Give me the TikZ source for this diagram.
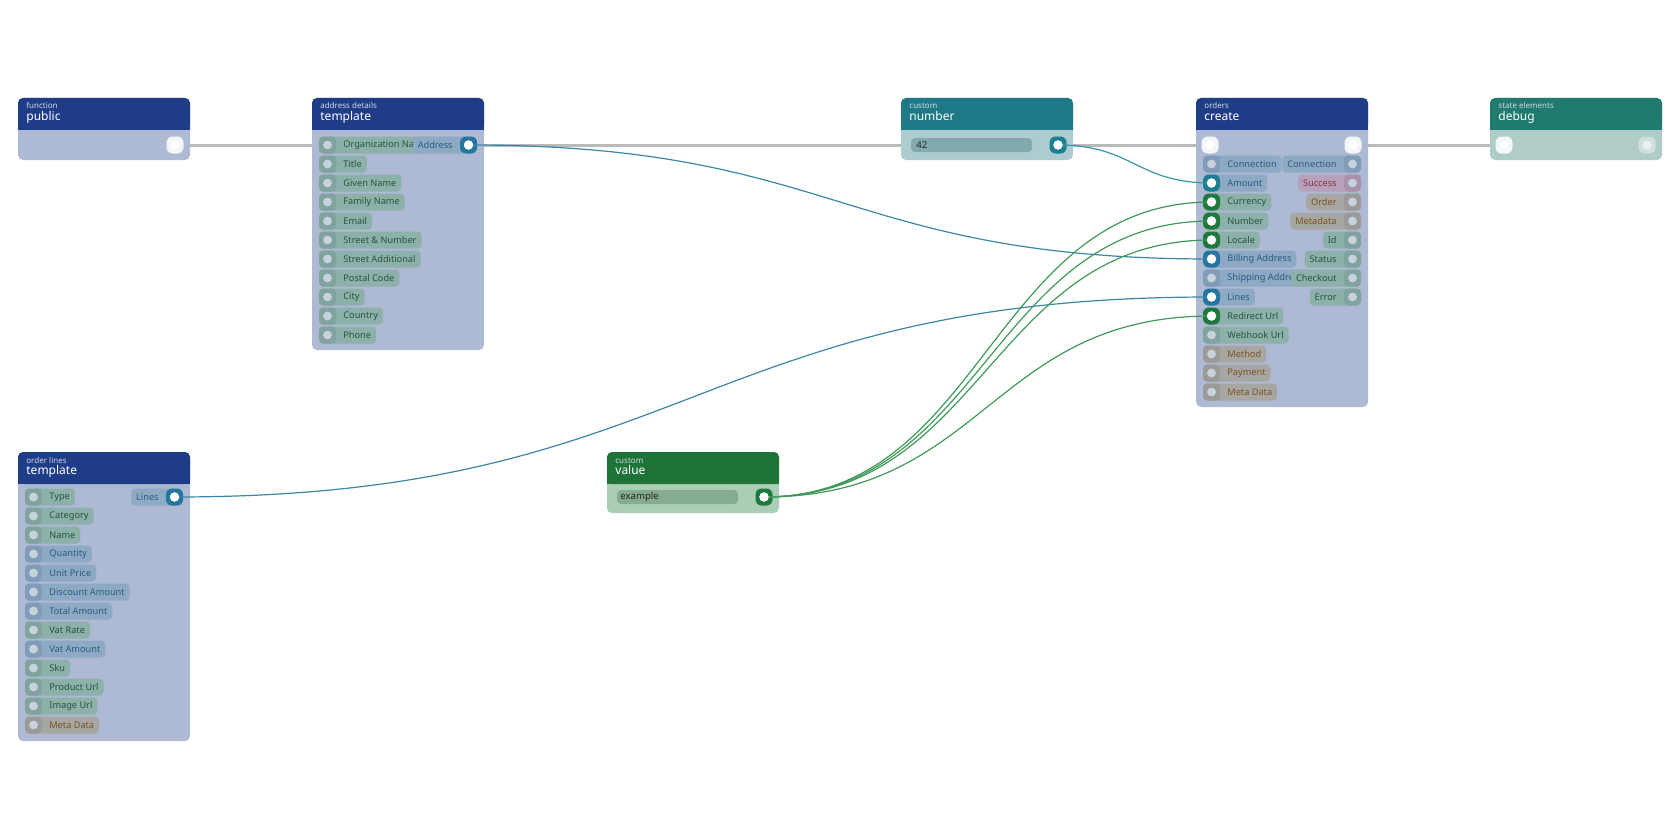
\documentclass[tikz,border=0pt]{standalone}
\usepackage{fontspec}
\setmainfont{Noto Sans}
\usetikzlibrary{calc}
\pgfdeclarelayer{back}
\pgfsetlayers{back,main}

\definecolor{navy}{HTML}{1F3D87}
\definecolor{lav}{HTML}{AEB9D4}
\definecolor{tealh}{HTML}{1E7A87}
\definecolor{tealb}{HTML}{AECBD0}
\definecolor{greenh}{HTML}{1E7338}
\definecolor{greenb}{HTML}{A9CDB5}
\definecolor{dbgh}{HTML}{217A6E}
\definecolor{dbgb}{HTML}{B0CCC9}
\definecolor{pillg}{HTML}{8DB0AA}\definecolor{txtg}{HTML}{22573C}\definecolor{portg}{HTML}{80A39E}
\definecolor{pillb}{HTML}{8EA9C4}\definecolor{txtb}{HTML}{2C5B80}\definecolor{portb}{HTML}{809CB8}
\definecolor{pillo}{HTML}{A8A6A2}\definecolor{txto}{HTML}{7A5520}\definecolor{porto}{HTML}{9C9A98}
\definecolor{pillr}{HTML}{B7A0BA}\definecolor{txtr}{HTML}{80304A}\definecolor{portr}{HTML}{AA92AE}
\definecolor{dotc}{HTML}{C8D2DC}
\definecolor{actb}{HTML}{2476A0}
\definecolor{actt}{HTML}{1C7E92}
\definecolor{actg}{HTML}{1E7A3C}
\definecolor{linkb}{HTML}{3B87A8}
\definecolor{linkt}{HTML}{3A97A5}
\definecolor{linkg}{HTML}{3F9A5A}

% box: name, x, y, w, h, head, body, subtitle, title
\newcommand\flowbox[9]{%
  \fill[#7, rounded corners=2.5pt] (#2,#3) rectangle ++(#4,#5);
  \fill[#6, rounded corners=2.5pt] (#2,#3) rectangle ++(#4,32);
  \fill[#6] (#2,#3+20) rectangle ++(#4,12);
  \node[sub, anchor=base west] at (#2+8,#3+11) {#8};
  \node[ttl, anchor=base west] (#1) at (#2+8,#3+22) {#9};
}
% input pin: name, x, y, type, label, active colour
\newcommand\inpin[6]{%
  \node[pill, fill=pill#4, text=txt#4, anchor=west] (#1-lbl) at (#2,#3) {\hspace*{9.5pt}#5};
  \if\relax\detokenize{#6}\relax
    \fill[port#4, rounded corners=2pt] (#2,#3-8.5) rectangle ++(17,17);
    \fill[dotc] (#2+8.5,#3) circle[radius=2.2pt];
  \else
    \fill[#6, rounded corners=3pt] (#2,#3-8.5) rectangle ++(17,17);
    \fill[white] (#2+8.5,#3) circle[radius=2.3pt];
  \fi
  \coordinate (#1) at (#2+8.5,#3);
}
% output pin: name, right x, y, type, label, active colour
\newcommand\outpin[6]{%
  \node[pill, fill=pill#4, text=txt#4, anchor=east] (#1-lbl) at (#2,#3) {#5\hspace*{9.5pt}};
  \if\relax\detokenize{#6}\relax
    \fill[port#4, rounded corners=2pt] (#2-17,#3-8.5) rectangle ++(17,17);
    \fill[dotc] (#2-8.5,#3) circle[radius=2.2pt];
  \else
    \fill[#6, rounded corners=3pt] (#2-17,#3-8.5) rectangle ++(17,17);
    \fill[white] (#2-8.5,#3) circle[radius=2.3pt];
  \fi
  \coordinate (#1) at (#2-8.5,#3);
}
% flow port: name, x, y, fill
\newcommand\flowpin[4]{%
  \fill[#4, rounded corners=3pt] (#2-8.5,#3-8.5) rectangle ++(17,17);
  \fill[white] (#2,#3) circle[radius=2.3pt];
  \coordinate (#1) at (#2,#3);
}

\begin{document}
\begin{tikzpicture}[x=0.5pt,y=-0.5pt]
\tikzstyle{sub}=[text=white!80!navy,font=\fontsize{4}{5}\selectfont,inner sep=0pt]
\tikzstyle{ttl}=[text=white,font=\fontsize{6}{7}\selectfont,inner sep=0pt]
\tikzstyle{pill}=[rounded corners=2pt,minimum height=8.5pt,inner ysep=0pt,inner xsep=2.5pt,font=\fontsize{4.6}{5}\selectfont]
\tikzstyle{bar}=[rounded corners=2pt,minimum height=7pt,inner sep=0pt,anchor=west,font=\fontsize{4.8}{5}\selectfont,text=black!85]
\tikzstyle{flow}=[line width=1.5pt,draw=black!27]
\tikzstyle{link}=[line width=0.6pt]
\useasboundingbox (0,0) rectangle (1680,840);

% function public
\flowbox{pub}{18}{98}{172}{62}{navy}{lav}{function}{public}
\flowpin{pub-out}{175}{145}{white!85!lav}

% address template
\flowbox{addr}{312}{98}{172}{252}{navy}{lav}{address details}{template}
\foreach \t [count=\i from 0] in {Organization Name,Title,Given Name,Family Name,Email,Street \& Number,Street Additional,Postal Code,City,Country,Phone}
  \inpin{addr-in\i}{319}{145+19*\i}{g}{\t}{};
\outpin{addr-out}{477}{145}{b}{Address}{actb}

% custom number
\flowbox{num}{901}{98}{172}{62}{tealh}{tealb}{custom}{number}
\fill[tealh!30!tealb!80!gray, rounded corners=2pt] (911,138) rectangle (1032,152);
\node[bar] (num-val) at (916,145) {42};
\flowpin{num-out}{1058}{145}{actt}

% orders create
\flowbox{ord}{1196}{98}{172}{309}{navy}{lav}{orders}{create}
\flowpin{ord-in}{1210}{145}{white!85!lav}
\flowpin{ord-out}{1353}{145}{white!85!lav}
\inpin{c-conn}{1203}{164}{b}{Connection}{}
\inpin{c-amount}{1203}{183}{b}{Amount}{actt}
\inpin{c-curr}{1203}{202}{g}{Currency}{actg}
\inpin{c-number}{1203}{221}{g}{Number}{actg}
\inpin{c-locale}{1203}{240}{g}{Locale}{actg}
\inpin{c-bill}{1203}{259}{b}{Billing Address}{actb}
\inpin{c-ship}{1203}{278}{b}{Shipping Address}{}
\inpin{c-lines}{1203}{297}{b}{Lines}{actb}
\inpin{c-redir}{1203}{316}{g}{Redirect Url}{actg}
\inpin{c-hook}{1203}{335}{g}{Webhook Url}{}
\inpin{c-method}{1203}{354}{o}{Method}{}
\inpin{c-pay}{1203}{373}{o}{Payment}{}
\inpin{c-meta}{1203}{392}{o}{Meta Data}{}
\outpin{o-conn}{1361}{164}{b}{Connection}{}
\outpin{o-succ}{1361}{183}{r}{Success}{}
\outpin{o-order}{1361}{202}{o}{Order}{}
\outpin{o-meta}{1361}{221}{o}{Metadata}{}
\outpin{o-id}{1361}{240}{g}{Id}{}
\outpin{o-status}{1361}{259}{g}{Status}{}
\outpin{o-check}{1361}{278}{g}{Checkout}{}
\outpin{o-err}{1361}{297}{g}{Error}{}

% debug
\flowbox{dbg}{1490}{98}{172}{62}{dbgh}{dbgb}{state elements}{debug}
\flowpin{dbg-in}{1504}{145}{white!85!dbgb}
\fill[white!40!dbgb, rounded corners=3pt] (1638.5,136.5) rectangle ++(17,17);
\fill[white!75!dbgb] (1647,145) circle[radius=2.2pt];

% order lines template
\flowbox{lines}{18}{452}{172}{289}{navy}{lav}{order lines}{template}
\foreach \t/\k [count=\i from 0] in {Type/g,Category/g,Name/g,Quantity/b,Unit Price/b,Discount Amount/b,Total Amount/b,Vat Rate/g,Vat Amount/b,Sku/g,Product Url/g,Image Url/g,Meta Data/o}
  \inpin{lines-in\i}{25}{497+19*\i}{\k}{\t}{};
\outpin{lines-out}{183}{497}{b}{Lines}{actb}

% custom value
\flowbox{val}{607}{452}{172}{61}{greenh}{greenb}{custom}{value}
\fill[greenh!25!greenb!80!gray, rounded corners=2pt] (617,490) rectangle (738,504);
\node[bar] (val-val) at (620,497) {example};
\flowpin{val-out}{764}{497}{actg}

% flow line behind the boxes
\begin{pgfonlayer}{back}
\draw[flow] (pub-out) -- (dbg-in);
\end{pgfonlayer}

% data links
\draw[link,linkb] (addr-out) .. controls +(370,0) and +(-370,0) .. (c-bill);
\draw[link,linkt] (num-out) .. controls +(75,0) and +(-75,0) .. (c-amount);
\draw[link,linkb] (lines-out) .. controls +(515,0) and +(-515,0) .. (c-lines);
\foreach \p in {c-curr,c-number,c-locale,c-redir}
  \draw[link,linkg] (val-out) .. controls +(220,0) and +(-220,0) .. (\p);

% port dots above the links
\foreach \p in {addr-out,num-out,lines-out,val-out,c-amount,c-curr,c-number,c-locale,c-bill,c-lines,c-redir}
  \fill[white] (\p) circle[radius=2.3pt];
\end{tikzpicture}
\end{document}
